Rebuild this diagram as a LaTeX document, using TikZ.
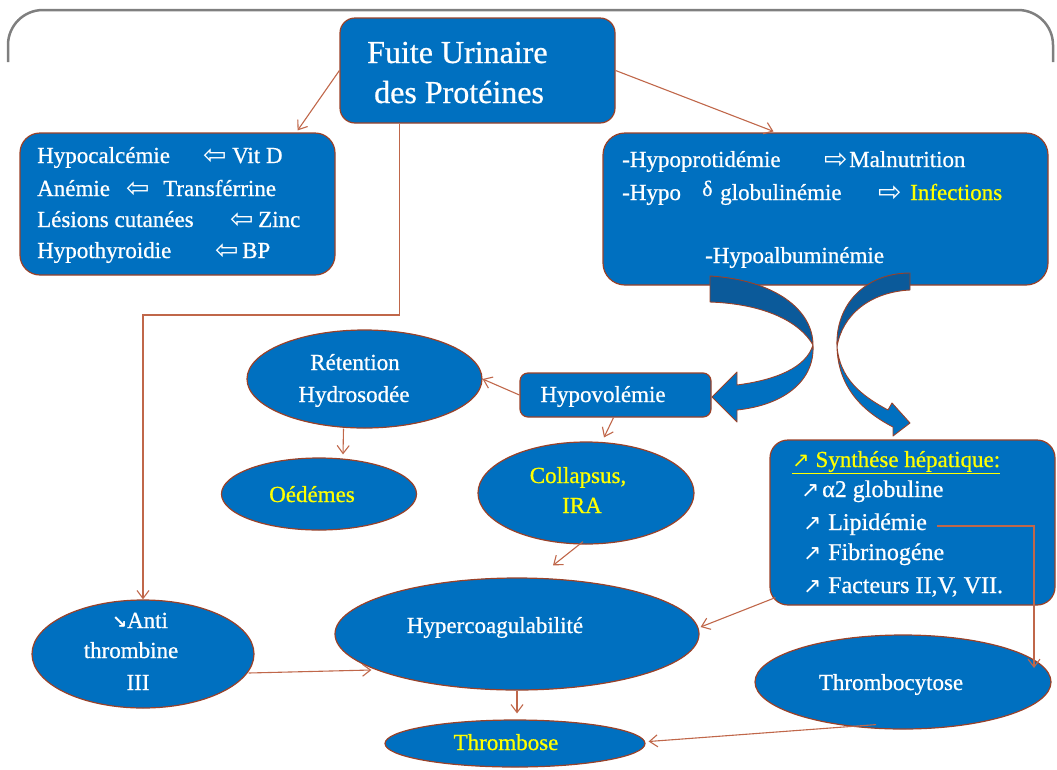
\documentclass[tikz,border=0pt]{standalone}
\usepackage{fontspec}
\setmainfont{Liberation Serif}[FakeBold=0.7]
\newfontfamily\symf{DejaVu Sans}
\usetikzlibrary{shapes.geometric,arrows.meta,calc}
\definecolor{boxblue}{HTML}{0070C0}
\definecolor{darkband}{HTML}{0B5A9A}
\definecolor{edgec}{HTML}{9A4128}
\definecolor{connc}{HTML}{C0674A}
\definecolor{framec}{HTML}{7F7F7F}
\definecolor{yel}{HTML}{FFFF00}
\begin{document}
\begin{tikzpicture}[x=1pt,y=-1pt,
  bluebox/.style={draw=edgec, line width=1.2pt, fill=boxblue, inner sep=0pt},
  blueell/.style={ellipse, draw=edgec, line width=1.2pt, fill=boxblue, inner sep=0pt},
  tw/.style={text=white, font=\fontsize{23}{27}\selectfont, inner sep=0pt, anchor=base west},
  ty/.style={tw, text=yel},
  tc/.style={tw, anchor=base},
  tcy/.style={tc, text=yel},
  sym/.style={text=white, font=\symf\fontsize{28}{30}\selectfont, inner sep=0pt, anchor=base west},
  usym/.style={text=white, font=\symf\fontsize{22}{24}\selectfont, inner sep=0pt, anchor=base west},
  link/.style={draw=connc, line width=1.1pt, -{Straight Barb[length=8pt,width=12pt]}},
  band/.style={draw=edgec, line width=0.9pt, line join=round}
]
\useasboundingbox (0,0) rectangle (1057,769);
% frame
\draw[framec, line width=2.5pt, rounded corners=35pt] (8,62) -- (8,10) -- (1053,10) -- (1053,62);

% boxes
\node[bluebox, rounded corners=15pt, minimum width=275pt, minimum height=105pt] (fuite) at (477.5,70.5) {};
\node[bluebox, rounded corners=20pt, minimum width=315pt, minimum height=142pt] (lbox) at (177.5,204) {};
\node[bluebox, rounded corners=22pt, minimum width=445pt, minimum height=152pt] (rbox) at (825.5,209) {};
\node[bluebox, rounded corners=8pt, minimum width=191pt, minimum height=44pt] (hypo) at (615.5,395) {};
\node[bluebox, rounded corners=18pt, minimum width=285pt, minimum height=165pt] (synth) at (912.5,522.5) {};

% ellipses
\node[blueell, minimum width=235pt, minimum height=98pt] (ret) at (364.5,379) {};
\node[blueell, minimum width=195pt, minimum height=72pt] (oed) at (319,494) {};
\node[blueell, minimum width=216pt, minimum height=102pt] (coll) at (586,493) {};
\node[blueell, minimum width=364pt, minimum height=112pt] (hyper) at (517,634) {};
\node[blueell, minimum width=222pt, minimum height=108pt] (anti) at (143,654) {};
\node[blueell, minimum width=260pt, minimum height=47pt] (thr) at (515,743.5) {};
\node[blueell, minimum width=296pt, minimum height=94pt] (thc) at (903,682) {};

% curved block arrows
\path[band, fill=darkband] (710,276) .. controls (775,280) and (813,310) .. (813,345)
   .. controls (800,322) and (765,304) .. (710,302) -- cycle;
\path[band, fill=boxblue] (813,345) .. controls (815,380) and (785,405) .. (737,410)
   -- (737,422) -- (712,397) -- (737,372) -- (737,385)
   .. controls (775,380) and (806,368) .. (813,345) -- cycle;
\path[band, fill=darkband] (910,273) -- (910,290) .. controls (870,292) and (842,315) .. (837,347)
   .. controls (835,305) and (865,273) .. (910,273) -- cycle;
\path[band, fill=boxblue] (837,347) .. controls (838,385) and (860,410) .. (893,427)
   -- (893,436) -- (910,423) -- (892,403) -- (888,410)
   .. controls (860,395) and (840,378) .. (837,347) -- cycle;

% texts: top
\node[tw, font=\fontsize{32}{36}\selectfont] (f1) at (367,63) {Fuite Urinaire};
\node[tw, font=\fontsize{32}{36}\selectfont] (f2) at (374,103) {des Protéines};

% left box
\node[tw] (l1a) at (37,163) {Hypocalcémie};
\node[sym] (l1b) at (203,164) {⇦};
\node[tw] (l1c) at (232,163) {Vit D};
\node[tw] (l2a) at (37,196) {Anémie};
\node[sym] (l2b) at (126,197) {⇦};
\node[tw] (l2c) at (163,196) {Transférrine};
\node[tw] (l3a) at (37,227) {Lésions cutanées};
\node[sym] (l3b) at (230,228) {⇦};
\node[tw] (l3c) at (258,227) {Zinc};
\node[tw] (l4a) at (37,258) {Hypothyroidie};
\node[sym] (l4b) at (215,259) {⇦};
\node[tw] (l4c) at (242,258) {BP};

% right box
\node[tw] (r1a) at (622,167) {-Hypoprotidémie};
\node[sym] (r1b) at (824,168) {⇨};
\node[tw] (r1c) at (849,167) {Malnutrition};
\node[tw] (r2a) at (622,200) {-Hypo};
\node[tw, font=\fontsize{22}{26}\selectfont] (r2b) at (702,196) {δ};
\node[tw] (r2c) at (720,200) {globulinémie};
\node[sym] (r2d) at (878,201) {⇨};
\node[ty] (r2e) at (910,200) {Infections};
\node[tw] (r3a) at (705,263) {-Hypoalbuminémie};

% synthese box
\node[ty, font=\fontsize{23}{27}\selectfont] (s1) at (792,467) {\underline{{\symf\fontsize{21}{24}\selectfont ↗}~Synthése hépatique:}};
\node[usym] (s2a) at (801,497) {↗};
\node[tw, font=\fontsize{24}{28}\selectfont] (s2b) at (822,497) {α2 globuline};
\node[usym] (s3a) at (803,530) {↗};
\node[tw, font=\fontsize{24}{28}\selectfont] (lip) at (828,530) {Lipidémie};
\node[usym] (s4a) at (803,560) {↗};
\node[tw, font=\fontsize{24}{28}\selectfont] (s4b) at (828,560) {Fibrinogéne};
\node[usym] (s5a) at (803,593) {↗};
\node[tw, font=\fontsize{24}{28}\selectfont] (s5b) at (828,593) {Facteurs II,V, VII.};

% ellipse texts
\node[tc] (ret1) at (355,370) {Rétention};
\node[tc] (ret2) at (354,402) {Hydrosodée};
\node[tc] (hypot) at (603,402) {Hypovolémie};
\node[tcy] (oedt) at (312,502) {Oédémes};
\node[tcy] (coll1) at (578,483) {Collapsus,};
\node[tcy] (coll2) at (582,513) {IRA};
\node[tc] (hypert) at (495,633) {Hypercoagulabilité};
\node[tc] (anti1) at (140,628) {{\symf\bfseries\fontsize{18}{20}\selectfont ↘}Anti};
\node[tc] (anti2) at (131,658) {thrombine};
\node[tc] (anti3) at (138,690) {III};
\node[tcy] (thrt) at (506,750) {Thrombose};
\node[tc] (thct) at (891,690) {Thrombocytose};

% connectors
\coordinate (bend) at (143,315);
\draw[link] (fuite.west) -- ($(lbox.north east)+(-38,-2)$);
\draw[link] (fuite.east) -- ($(rbox.north)+(-52,-1)$);
\draw[link] ($(fuite.south west)+(60,0)$) |- (bend) -- (anti.north);
\draw[link] (hypo.west) -- (ret.east);
\draw[link] ($(hypo.south)+(-2,0)$) -- ($(coll.north)+(18,-4)$);
\draw[link] ($(ret.south)+(-21,0)$) -- ($(oed.north)+(24,-3)$);
\draw[link] ($(coll.south)+(-3,-3)$) -- ($(hyper.north)+(36,-12)$);
\draw[link] ($(synth.south west)+(6,-8)$) -- ($(hyper.east)+(1,-7)$);
\draw[link] ($(lip.base east)+(10,-4)$) -| ($(thc.center)+(131,-14)$);
\draw[link] ($(anti.east)+(-6,19)$) -- ($(hyper.west)+(37,36)$);
\draw[link] (hyper.south) -- ($(thr.north)+(2,-6)$);
\draw[link] ($(thc.south)+(-27,-5)$) -- ($(thr.east)+(3,-2)$);
\end{tikzpicture}
\end{document}
